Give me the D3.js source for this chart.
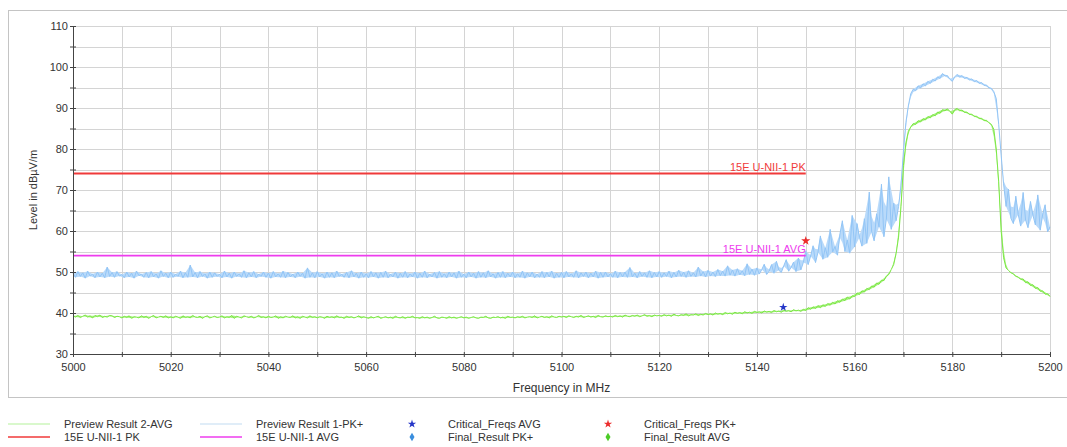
<!DOCTYPE html>
<html>
<head>
<meta charset="utf-8">
<script src="https://cdn.jsdelivr.net/npm/d3@7"></script>
<style>
body { margin: 0; background: #fff; }
text { font-family: "Liberation Sans", Arial, sans-serif; }
</style>
</head>
<body>
<script>
// sweep grid: 5000 .. 5200 MHz, 0.5 MHz per point
const freqs = d3.range(5000, 5200.25, 0.5);

// Preview Result 2-AVG (dBuV/m)
const avgLevel = [
  39.3,39.0,39.4,38.9,39.2,39.5,39.0,39.3,38.8,39.4,39.1,39.5,38.9,39.2,39.0,39.4,39.3,38.9,39.2,39.1,
  38.8,39.2,38.9,39.3,38.7,39.1,39.0,38.8,39.3,38.9,39.2,38.7,39.1,39.4,38.8,39.0,39.2,38.9,39.3,38.8,
  39.1,38.8,39.2,39.0,38.7,39.3,38.9,39.1,38.8,39.4,39.0,38.9,39.2,38.7,39.1,39.3,38.8,39.0,39.2,38.9,
  39.0,39.3,38.8,39.1,38.9,39.4,38.7,39.2,39.0,38.8,39.3,39.1,38.9,39.2,38.8,39.0,39.4,38.9,39.1,38.8,
  39.2,38.9,39.0,39.3,38.7,39.1,38.8,39.2,39.0,38.9,39.3,38.8,39.1,38.7,39.2,39.0,38.8,39.3,38.9,39.1,
  38.8,39.1,39.0,38.7,39.2,38.9,39.1,38.8,39.3,38.9,39.0,38.7,39.2,38.9,39.1,38.8,39.0,39.3,38.8,39.1,
  38.9,38.7,39.1,38.8,39.0,39.2,38.7,38.9,39.1,38.8,39.0,38.7,39.2,38.9,38.8,39.1,38.7,39.0,38.9,39.2,
  38.8,38.9,38.7,39.1,38.8,39.0,38.7,38.9,39.2,38.8,38.7,39.0,38.9,38.7,39.1,38.8,39.0,38.7,38.9,39.1,
  38.8,39.0,38.7,38.9,39.1,38.8,38.7,39.0,38.9,39.2,38.8,38.7,39.0,38.9,39.1,38.8,39.0,38.7,39.2,38.9,
  39.0,38.8,39.1,38.9,39.2,38.8,39.0,39.1,38.9,39.3,38.8,39.0,39.2,38.9,39.1,38.8,39.3,39.0,38.9,39.2,
  39.0,39.2,38.9,39.3,39.1,38.9,39.2,39.0,39.4,38.9,39.1,39.3,39.0,39.2,38.9,39.4,39.1,39.0,39.3,39.1,
  39.2,39.0,39.4,39.1,39.3,39.0,39.5,39.2,39.1,39.4,39.2,39.5,39.1,39.3,39.6,39.2,39.4,39.1,39.5,39.3,
  39.4,39.2,39.6,39.3,39.5,39.2,39.7,39.4,39.3,39.6,39.4,39.8,39.3,39.6,39.5,39.8,39.4,39.7,39.5,39.9,
  39.6,39.8,39.5,40.0,39.7,39.9,39.6,40.1,39.8,40.0,39.7,40.2,39.9,40.1,39.8,40.3,40.0,40.2,39.9,40.4,
  40.1,40.3,40.0,40.5,40.2,40.4,40.1,40.6,40.3,40.5,40.2,40.7,40.4,40.6,40.3,40.8,40.5,40.7,40.4,40.9,
  40.6,41.3,40.9,41.5,41.1,41.8,41.3,42.0,41.6,42.3,41.9,42.6,42.2,43.0,42.6,43.4,43.0,43.9,43.4,44.2,
  44.0,44.9,44.5,45.4,45.1,46.0,45.7,46.6,46.3,47.3,47.0,48.0,47.9,49.0,49.4,50.6,51.8,54.5,58.5,66.0,
  76.0,81.5,84.3,85.4,86.2,86.0,86.9,86.6,87.4,87.1,87.9,87.6,88.4,88.1,89.0,88.7,89.6,89.3,89.8,89.2,
  88.5,89.6,89.9,89.3,89.5,88.9,89.0,88.4,88.5,87.9,88.0,87.4,87.5,86.9,87.0,86.4,86.0,84.8,80.0,72.0,
  60.0,53.5,51.0,50.4,49.8,49.6,48.9,48.8,48.2,48.3,47.4,47.6,46.7,46.9,46.0,46.2,45.3,45.4,44.6,44.7,
  44.0
];

// Preview Result 1-PK+ (dBuV/m)
const pkLevel = [
  49.6,48.7,50.1,48.9,49.8,48.5,50.2,49.0,49.5,48.6,50.0,48.8,49.7,48.6,51.2,48.9,49.9,48.7,50.1,49.0,
  49.4,48.6,50.0,48.8,49.7,48.5,50.2,49.1,49.5,48.7,49.9,48.6,50.1,48.8,49.6,48.5,50.3,48.9,49.7,48.6,
  50.0,48.7,49.5,48.9,50.2,48.6,49.8,48.7,51.7,48.8,49.9,48.6,50.1,48.9,49.6,48.5,50.0,48.7,49.8,48.9,
  49.5,48.6,50.2,48.8,49.7,48.5,50.0,48.9,49.6,48.7,50.3,48.6,49.8,48.8,50.1,48.6,49.5,48.9,50.0,48.7,
  49.7,48.5,50.1,48.8,49.6,48.7,50.2,48.6,49.9,48.8,49.5,48.6,50.0,48.9,49.7,48.5,51.0,48.7,49.8,48.6,
  50.1,48.8,49.6,48.5,50.0,48.7,49.8,48.6,50.2,48.9,49.5,48.7,49.9,48.6,50.3,48.8,49.7,48.5,50.0,48.7,
  49.6,48.6,50.1,48.8,49.8,48.5,49.9,48.7,50.2,48.6,49.5,48.8,50.0,48.5,49.7,48.7,50.1,48.6,49.6,48.8,
  50.0,48.5,49.7,48.7,50.2,48.6,49.5,48.8,49.9,48.5,50.1,48.7,49.6,48.6,50.0,48.8,49.8,48.5,50.2,48.7,
  49.5,48.6,50.0,48.8,49.7,48.5,50.1,48.7,49.8,48.6,50.3,48.8,49.6,48.5,49.9,48.7,50.1,48.6,49.7,48.8,
  50.0,48.6,49.6,48.7,50.2,48.5,49.8,48.8,50.0,48.6,49.5,48.7,50.1,48.6,49.9,48.8,50.2,48.5,49.7,48.7,
  49.9,48.6,50.1,48.8,49.6,48.7,50.3,48.6,49.8,48.9,50.0,48.6,49.7,48.8,50.2,48.5,49.9,48.7,50.0,48.8,
  49.6,48.7,50.2,48.6,49.9,48.8,50.0,48.7,51.1,48.8,49.7,48.6,50.1,48.9,49.8,48.7,50.3,48.6,49.9,48.8,
  50.1,48.7,49.8,48.9,50.2,48.6,49.9,48.8,50.4,48.9,50.0,48.7,50.3,48.9,49.8,48.8,51.2,49.0,50.1,48.8,
  50.4,49.0,50.0,48.9,50.6,49.1,50.2,49.0,51.5,49.2,50.5,49.0,50.8,49.3,50.3,49.1,52.0,49.4,50.7,49.2,
  51.0,49.5,50.6,51.9,49.4,50.2,51.8,49.7,52.6,50.4,49.9,51.5,53.0,50.2,51.1,52.4,50.1,53.4,50.5,52.3,
  55.2,51.8,53.9,56.4,52.3,54.8,58.8,53.1,55.9,53.6,60.4,54.9,56.2,54.1,59.3,62.5,55.0,57.8,54.6,63.8,
  56.1,61.8,58.4,56.3,63.0,57.0,69.5,59.8,57.6,64.2,61.0,71.4,58.6,62.9,73.2,60.4,66.8,62.5,66.0,71.0,
  79.5,86.5,90.5,93.5,94.6,94.2,95.4,94.9,95.9,95.4,96.5,96.0,97.0,96.6,97.6,97.2,98.4,97.8,97.9,97.0,
  96.5,97.6,98.2,97.5,97.9,97.2,97.5,96.8,97.1,96.4,96.7,96.0,96.2,95.5,95.6,94.9,94.8,94.0,92.3,86.0,
  78.5,71.5,66.0,70.2,63.1,61.8,68.5,64.0,61.2,69.4,62.7,60.8,67.2,63.9,61.5,68.8,60.2,64.1,66.4,59.8,
  61.0
];

const limitNames = ['15E U-NII-1 PK', '15E U-NII-1 AVG'];
const limitLevels = [74, 54];
const limitColors = ['#f03a3a', '#ee3cee'];
const limitSpan = [5000, 5150];

const criticalAvg = [[5145.4, 41.4]];
const criticalPk = [[5150.0, 57.6]];

const xTickValues = d3.range(5000, 5201, 10);
const yTickValues = d3.range(30, 111, 5);

const width = 1067, height = 447;
const x = d3.scaleLinear().domain([5000, 5200]).range([73, 1050]);
const y = d3.scaleLinear().domain([30, 110]).range([354, 26]);

const svg = d3.select('body').append('svg')
  .attr('width', width)
  .attr('height', height);

// outer frame
svg.append('rect')
  .attr('x', 8.5).attr('y', 10.5)
  .attr('width', 1080).attr('height', 387)
  .attr('fill', 'none')
  .attr('stroke', '#c4c4c4');

// grid
svg.append('g').selectAll('line.v')
  .data(xTickValues.slice(1))
  .join('line')
  .attr('x1', d => Math.round(x(d)) + 0.5).attr('x2', d => Math.round(x(d)) + 0.5)
  .attr('y1', y(110)).attr('y2', y(30))
  .attr('stroke', '#d4d4d4');

svg.append('g').selectAll('line.h')
  .data(yTickValues.slice(1))
  .join('line')
  .attr('x1', x(5000)).attr('x2', x(5200))
  .attr('y1', d => Math.round(y(d)) + 0.5).attr('y2', d => Math.round(y(d)) + 0.5)
  .attr('stroke', '#d4d4d4');

// traces: noise band (point-to-point jitter around the local mean) + the trace itself
function jitter(arr, i) {
  const a = arr[Math.max(0, i - 1)], b = arr[i], c = arr[Math.min(arr.length - 1, i + 1)];
  const mid = (a + 2 * b + c) / 4;
  const half = Math.abs(b - (a + c) / 2) / 2;
  return [mid - half, mid + half];
}
const band = arr => d3.area()
  .x((d, i) => x(freqs[i]))
  .y0((d, i) => y(jitter(arr, i)[0]))
  .y1((d, i) => y(jitter(arr, i)[1]));
const line = d3.line()
  .x((d, i) => x(freqs[i]))
  .y(d => y(d));

svg.append('path')
  .attr('d', band(pkLevel)(pkLevel))
  .attr('fill', '#b9dafa');
svg.append('path')
  .attr('d', line(pkLevel))
  .attr('fill', 'none')
  .attr('stroke', '#92c5f6')
  .attr('stroke-width', 1);

svg.append('path')
  .attr('d', band(avgLevel)(avgLevel))
  .attr('fill', '#a9f083');
svg.append('path')
  .attr('d', line(avgLevel))
  .attr('fill', 'none')
  .attr('stroke', '#7be844')
  .attr('stroke-width', 1);

// limit lines
limitNames.forEach((name, i) => {
  svg.append('line')
    .attr('x1', x(limitSpan[0])).attr('x2', x(limitSpan[1]))
    .attr('y1', y(limitLevels[i])).attr('y2', y(limitLevels[i]))
    .attr('stroke', limitColors[i])
    .attr('stroke-width', i === 0 ? 2 : 1.6);
  svg.append('text')
    .attr('x', x(limitSpan[1]))
    .attr('y', y(limitLevels[i]) - 3)
    .attr('text-anchor', 'end')
    .attr('font-size', 11)
    .attr('fill', limitColors[i])
    .text(name);
});

// critical frequencies
svg.append('g').selectAll('path')
  .data(criticalAvg)
  .join('path')
  .attr('transform', d => `translate(${x(d[0])},${y(d[1])})`)
  .attr('d', d3.symbol(d3.symbolStar, 22))
  .attr('fill', '#2536c8');

svg.append('g').selectAll('path')
  .data(criticalPk)
  .join('path')
  .attr('transform', d => `translate(${x(d[0])},${y(d[1])})`)
  .attr('d', d3.symbol(d3.symbolStar, 26))
  .attr('fill', '#ec2c2c');

// axes
const xAxis = svg.append('g')
  .attr('transform', `translate(0,${y(30)})`)
  .call(d3.axisBottom(x)
    .tickValues(xTickValues)
    .tickSize(3)
    .tickPadding(6)
    .tickFormat(d => d % 20 === 0 ? d : ''));

const yAxis = svg.append('g')
  .attr('transform', `translate(${x(5000)},0)`)
  .call(d3.axisLeft(y)
    .tickValues(yTickValues)
    .tickSize(3)
    .tickPadding(2)
    .tickFormat(d => d % 10 === 0 ? d : ''));

[xAxis, yAxis].forEach(g => {
  g.select('.domain').attr('stroke', '#444');
  g.selectAll('.tick line').attr('stroke', '#444');
  g.selectAll('.tick text')
    .attr('font-size', 11)
    .attr('font-family', '"Liberation Sans", Arial, sans-serif')
    .attr('fill', '#333');
});
xAxis.selectAll('.tick line').attr('y1', -2);
yAxis.selectAll('.tick line').attr('x1', 3).attr('x2', -3);

svg.append('text')
  .attr('x', (x(5000) + x(5200)) / 2)
  .attr('y', 392)
  .attr('text-anchor', 'middle')
  .attr('font-size', 12)
  .attr('fill', '#333')
  .text('Frequency in MHz');

svg.append('text')
  .attr('transform', 'translate(37,190) rotate(-90)')
  .attr('text-anchor', 'middle')
  .attr('font-size', 11)
  .attr('fill', '#333')
  .text('Level in dBµV/m');

// legend
const legendLines = [
  {name: 'Preview Result 2-AVG', color: '#b4f29a', lx: 8, row: 0},
  {name: '15E U-NII-1 PK', color: '#f03a3a', lx: 8, row: 1},
  {name: 'Preview Result 1-PK+', color: '#c2dbf2', lx: 200, row: 0},
  {name: '15E U-NII-1 AVG', color: '#ee3cee', lx: 200, row: 1}
];
const legendMarks = [
  {name: 'Critical_Freqs AVG', color: '#2536c8', shape: d3.symbolStar, mx: 412, row: 0},
  {name: 'Final_Result PK+', color: '#3a8ede', shape: d3.symbolDiamond, mx: 412, row: 1},
  {name: 'Critical_Freqs PK+', color: '#ec2c2c', shape: d3.symbolStar, mx: 608, row: 0},
  {name: 'Final_Result AVG', color: '#4ccc28', shape: d3.symbolDiamond, mx: 608, row: 1}
];
const rowY = [424, 437];

legendLines.forEach(d => {
  svg.append('line')
    .attr('x1', d.lx).attr('x2', d.lx + 42)
    .attr('y1', rowY[d.row]).attr('y2', rowY[d.row])
    .attr('stroke', d.color)
    .attr('stroke-width', d.row === 1 ? 1.6 : 1.2);
  svg.append('text')
    .attr('x', d.lx + 56).attr('y', rowY[d.row] + 4)
    .attr('font-size', 11)
    .attr('fill', '#333')
    .text(d.name);
});

legendMarks.forEach(d => {
  svg.append('path')
    .attr('transform', `translate(${d.mx},${rowY[d.row]})`)
    .attr('d', d3.symbol(d.shape, 22))
    .attr('fill', d.color);
  svg.append('text')
    .attr('x', d.mx + 36).attr('y', rowY[d.row] + 4)
    .attr('font-size', 11)
    .attr('fill', '#333')
    .text(d.name);
});
</script>
</body>
</html>
